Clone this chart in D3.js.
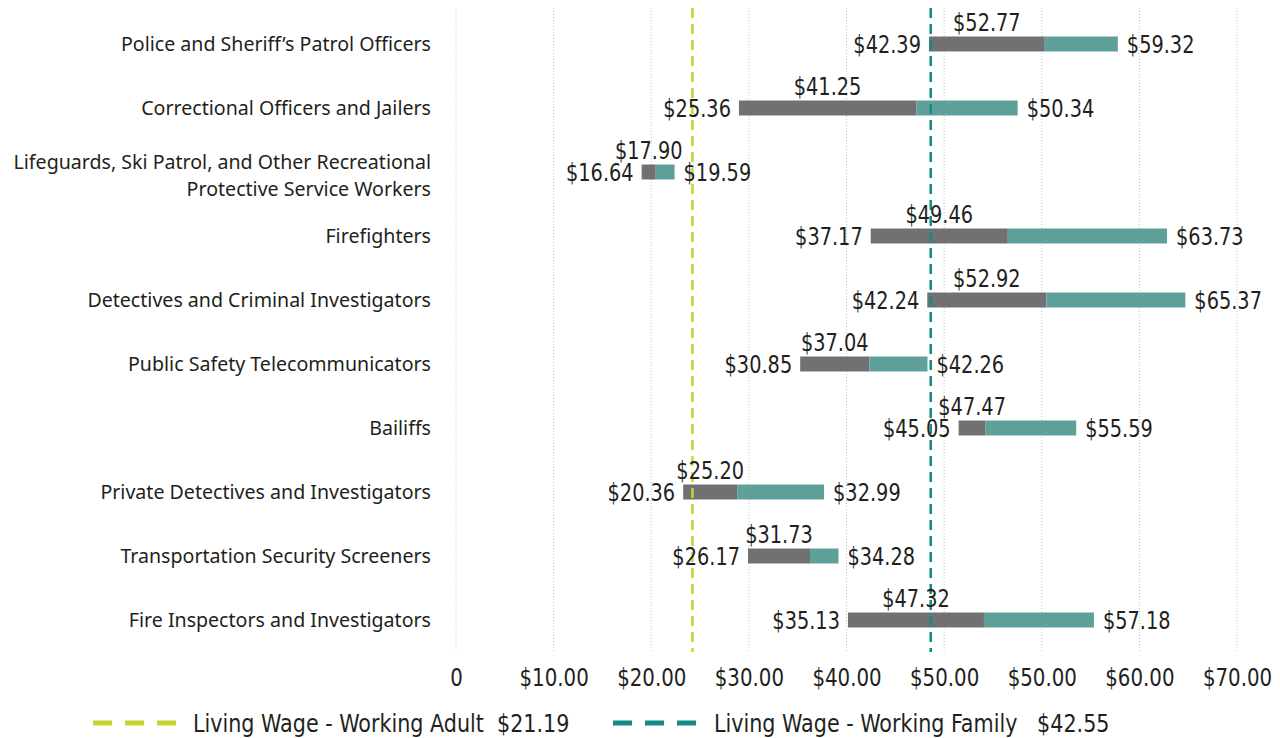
<!DOCTYPE html>
<html>
<head>
<meta charset="utf-8">
<script src="https://cdn.jsdelivr.net/npm/d3@7"></script>
<style>
  body { margin: 0; background: #fff; }
  svg text { fill: #231f20; }
  .cat { font-family: "Noto Sans", "Open Sans", sans-serif; font-size: 19.6px; }
  .num { font-family: "DejaVu Sans Condensed", "DejaVu Sans", sans-serif; font-size: 25px; }
</style>
</head>
<body>
<svg width="1280" height="738"></svg>
<script>
// Occupations, top to bottom
const categories = [
    "Police and Sheriff\u2019s Patrol Officers",
    "Correctional Officers and Jailers",
    "Lifeguards, Ski Patrol, and Other Recreational|Protective Service Workers",
    "Firefighters",
    "Detectives and Criminal Investigators",
    "Public Safety Telecommunicators",
    "Bailiffs",
    "Private Detectives and Investigators",
    "Transportation Security Screeners",
    "Fire Inspectors and Investigators"
];

// Hourly wages
const lowWage  = [42.39, 25.36, 16.64, 37.17, 42.24, 30.85, 45.05, 20.36, 26.17, 35.13];
const midWage  = [52.77, 41.25, 17.90, 49.46, 52.92, 37.04, 47.47, 25.20, 31.73, 47.32];
const highWage = [59.32, 50.34, 19.59, 63.73, 65.37, 42.26, 55.59, 32.99, 34.28, 57.18];

// Living wage reference lines
const livingWages = [
    { name: "Living Wage - Working Adult  ", value: 21.19, color: "#c3d52f" },
    { name: "Living Wage - Working Family   ", value: 42.55, color: "#138b84" }
];

// Axis tick labels (as printed in the source)
const tickLabels = ["0", "$10.00", "$20.00", "$30.00", "$40.00", "$50.00", "$50.00", "$60.00", "$70.00"];

const svg = d3.select("svg");
const fmt = d => "$" + d3.format(".2f")(d);

const x = d3.scaleLinear().domain([0, 70]).range([456, 1237]);
const y = d3.scalePoint().domain(d3.range(categories.length)).range([44, 620]);
const tickVals = tickLabels.map((_, i) => i * 70 / (tickLabels.length - 1));

const plotTop = 8, plotBottom = 652;
const barH = 15;
const squeeze = 0.86; // narrow the number font

// Dotted gridlines
svg.append("g").selectAll("line")
    .data(tickVals)
    .join("line")
    .attr("x1", d => x(d)).attr("x2", d => x(d))
    .attr("y1", plotTop).attr("y2", plotBottom)
    .attr("stroke", "#a9cccc")
    .attr("stroke-width", 1)
    .attr("stroke-dasharray", "1,2");

// Axis labels
const axis = svg.append("g")
    .attr("transform", `translate(0,${plotBottom})`)
    .call(d3.axisBottom(x).tickValues(tickVals).tickSize(0).tickPadding(0)
        .tickFormat((d, i) => tickLabels[i]));
axis.select(".domain").remove();
axis.selectAll("text")
    .attr("class", "num")
    .attr("dy", 0)
    .attr("y", 0)
    .attr("transform", "translate(0,34) scale(0.88,1)")
    .attr("fill", "#231f20");

// Category labels
const rows = categories.map((c, i) => ({ c, i, low: lowWage[i], mid: midWage[i], high: highWage[i] }));

svg.append("g").selectAll("text")
    .data(rows)
    .join("text")
    .attr("class", "cat")
    .attr("text-anchor", "end")
    .attr("x", 431)
    .attr("y", d => y(d.i))
    .each(function (d) {
        const lines = d.c.split("|");
        const t = d3.select(this);
        lines.forEach((l, k) => {
            t.append("tspan")
                .attr("x", 431)
                .attr("dy", k === 0 ? (7 - (lines.length - 1) * 10.5) : 27)
                .text(l);
        });
    });

// Bars
const bars = svg.append("g");
bars.selectAll("rect.lo")
    .data(rows)
    .join("rect")
    .attr("class", "lo")
    .attr("x", d => x(d.low))
    .attr("width", d => x(d.mid) - x(d.low))
    .attr("y", d => y(d.i) - barH / 2)
    .attr("height", barH)
    .attr("fill", "#717171");
bars.selectAll("rect.hi")
    .data(rows)
    .join("rect")
    .attr("class", "hi")
    .attr("x", d => x(d.mid))
    .attr("width", d => x(d.high) - x(d.mid))
    .attr("y", d => y(d.i) - barH / 2)
    .attr("height", barH)
    .attr("fill", "#5fa09b");

// Living wage lines
svg.append("g").selectAll("line")
    .data(livingWages)
    .join("line")
    .attr("x1", d => x(d.value)).attr("x2", d => x(d.value))
    .attr("y1", plotTop).attr("y2", plotBottom)
    .attr("stroke", d => d.color)
    .attr("stroke-width", 2.5)
    .attr("stroke-dasharray", "10,6");

// Value labels
const place = (px, py) => `translate(${px},${py}) scale(${squeeze},1)`;
const labels = svg.append("g");
labels.selectAll("text.lo")
    .data(rows)
    .join("text")
    .attr("class", "num lo")
    .attr("text-anchor", "end")
    .attr("transform", d => place(x(d.low) - 8, y(d.i) + 9))
    .text(d => fmt(d.low));
labels.selectAll("text.hi")
    .data(rows)
    .join("text")
    .attr("class", "num hi")
    .attr("transform", d => place(x(d.high) + 9, y(d.i) + 9))
    .text(d => fmt(d.high));
labels.selectAll("text.mid")
    .data(rows)
    .join("text")
    .attr("class", "num mid")
    .attr("text-anchor", "middle")
    .attr("transform", d => place((x(d.low) + x(d.mid)) / 2, y(d.i) - 13))
    .text(d => fmt(d.mid));

// Legend
const legend = svg.append("g").selectAll("g")
    .data(livingWages)
    .join("g")
    .attr("transform", (d, i) => `translate(${i === 0 ? 93 : 613},723)`);
legend.append("line")
    .attr("x1", 0).attr("x2", 83)
    .attr("stroke", d => d.color)
    .attr("stroke-width", 5)
    .attr("stroke-dasharray", "19,13");
legend.append("text")
    .attr("class", "num")
    .attr("transform", (d, i) => `translate(${i === 0 ? 100 : 101},9) scale(0.92,1)`)
    .attr("xml:space", "preserve")
    .style("white-space", "pre")
    .text(d => d.name + fmt(d.value));
</script>
</body>
</html>
